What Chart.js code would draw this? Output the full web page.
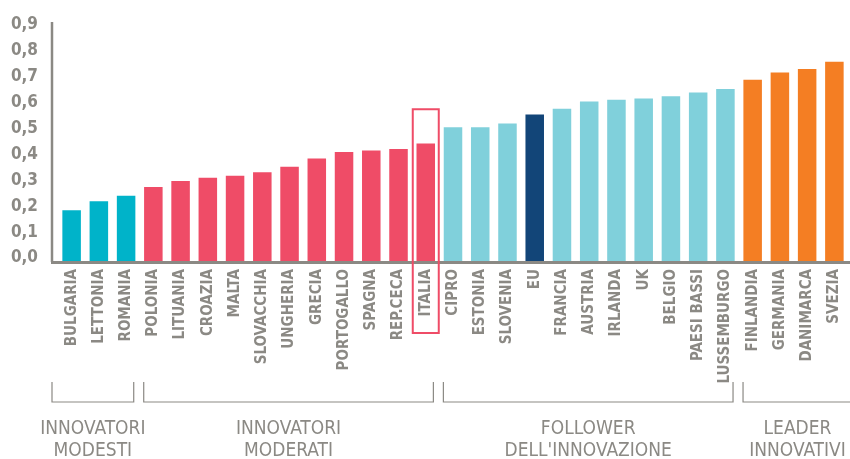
<!DOCTYPE html>
<html>
<head>
<meta charset="utf-8">
<script src="https://cdn.jsdelivr.net/npm/chart.js@4.4.1/dist/chart.umd.min.js"></script>
<style>
  body { margin: 0; background: #fff; }
  #wrap { width: 850px; height: 459px; position: relative; }
</style>
</head>
<body>
<div id="wrap"><canvas id="chart"></canvas></div>
<script>
const countries = ['BULGARIA', 'LETTONIA', 'ROMANIA',
    'POLONIA', 'LITUANIA', 'CROAZIA', 'MALTA', 'SLOVACCHIA', 'UNGHERIA', 'GRECIA', 'PORTOGALLO', 'SPAGNA', 'REP.CECA', 'ITALIA',
    'CIPRO', 'ESTONIA', 'SLOVENIA', 'EU', 'FRANCIA', 'AUSTRIA', 'IRLANDA', 'UK', 'BELGIO', 'PAESI BASSI', 'LUSSEMBURGO',
    'FINLANDIA', 'GERMANIA', 'DANIMARCA', 'SVEZIA'];
const scores = [0.200, 0.235, 0.256,
    0.290, 0.313, 0.325, 0.333, 0.347, 0.368, 0.400, 0.425, 0.431, 0.436, 0.458,
    0.520, 0.520, 0.535, 0.570, 0.592, 0.620, 0.627, 0.632, 0.640, 0.655, 0.668,
    0.704, 0.732, 0.745, 0.773];
const groupNames = [['INNOVATORI', 'MODESTI'], ['INNOVATORI', 'MODERATI'], ['FOLLOWER', "DELL'INNOVAZIONE"], ['LEADER', 'INNOVATIVI']];
const groupSizes = [3, 11, 11, 4];
const yTicks = [0, 0.1, 0.2, 0.3, 0.4, 0.5, 0.6, 0.7, 0.8, 0.9];
const highlight = 'ITALIA';
const average = 'EU';

const groupColors = ['#00b3c9', '#ef4c67', '#80d0db', '#f47e23'];
const euColor = '#124578';
const gray = '#8b8984';
const font = "'Liberation Sans Narrow', 'DejaVu Sans Condensed', sans-serif";

// colour of each bar from its group
const barColors = [];
groupSizes.forEach((n, g) => {
    for (let i = 0; i < n; i++) barColors.push(groupColors[g]);
});
barColors[countries.indexOf(average)] = euColor;

const decorations = {
    id: 'decorations',
    afterDraw(chart) {
        const { ctx, chartArea, scales: { x, y } } = chart;
        const half = (x.getPixelForValue(1) - x.getPixelForValue(0)) / 2;
        ctx.save();

        // axes
        ctx.strokeStyle = gray;
        ctx.lineWidth = 2.5;
        ctx.beginPath();
        ctx.moveTo(52, chartArea.top);
        ctx.lineTo(52, chartArea.bottom);
        ctx.stroke();
        ctx.lineWidth = 3;
        ctx.beginPath();
        ctx.moveTo(51, chartArea.bottom + 0.5);
        ctx.lineTo(chart.width, chartArea.bottom + 0.5);
        ctx.stroke();

        // highlight box
        const hi = countries.indexOf(highlight);
        const hx = x.getPixelForValue(hi);
        const top = y.getPixelForValue(0.59);
        ctx.strokeStyle = '#ef4c67';
        ctx.lineWidth = 2;
        ctx.strokeRect(hx - 13, top, 26, chartArea.bottom + 71 - top);

        // group brackets
        ctx.strokeStyle = gray;
        ctx.lineWidth = 1.2;
        ctx.fillStyle = gray;
        ctx.font = '19px ' + font;
        ctx.textAlign = 'center';
        ctx.textBaseline = 'middle';
        let start = 0;
        groupSizes.forEach((n, g) => {
            let left = x.getPixelForValue(start) - half + 4;
            let right = x.getPixelForValue(start + n - 1) + half - 6;
            if (g === 0) left = 52;
            if (g === groupSizes.length - 1) right = chart.width + 2;
            ctx.beginPath();
            ctx.moveTo(left, 382);
            ctx.lineTo(left, 402);
            ctx.lineTo(right, 402);
            ctx.lineTo(right, 382);
            ctx.stroke();
            const cx = (left + right) / 2;
            ctx.fillText(groupNames[g][0], cx, 429);
            ctx.fillText(groupNames[g][1], cx, 451);
            start += n;
        });
        ctx.restore();
    }
};

new Chart(document.getElementById('chart'), {
    type: 'bar',
    data: {
        labels: countries,
        datasets: [{
            data: scores,
            backgroundColor: barColors,
            borderWidth: 0,
            categoryPercentage: 1,
            barPercentage: 0.68
        }]
    },
    options: {
        responsive: true,
        maintainAspectRatio: false,
        animation: false,
        layout: { padding: { top: 22, right: 2, left: 0, bottom: 0 } },
        plugins: { legend: { display: false }, tooltip: { enabled: false } },
        scales: {
            x: {
                grid: { display: false, drawTicks: false },
                border: { display: false },
                afterFit: s => { s.height = 197; s.paddingLeft = 0; s.paddingRight = 0; },
                ticks: {
                    autoSkip: false,
                    minRotation: 90,
                    maxRotation: 90,
                    padding: 7,
                    color: gray,
                    font: { family: font, size: 15, weight: 'bold' }
                }
            },
            y: {
                min: 0,
                max: 0.927,
                grid: { display: false, drawTicks: false },
                border: { display: false },
                afterFit: s => { s.width = 58; s.paddingTop = 0; s.paddingBottom = 0; },
                afterBuildTicks: s => { s.ticks = yTicks.map(v => ({ value: v })); },
                ticks: {
                    padding: 20,
                    labelOffset: -4,
                    color: gray,
                    font: { family: font, size: 17, weight: 'bold' },
                    callback: v => v.toFixed(1).replace('.', ',')
                }
            }
        }
    },
    plugins: [decorations]
});
</script>
</body>
</html>
